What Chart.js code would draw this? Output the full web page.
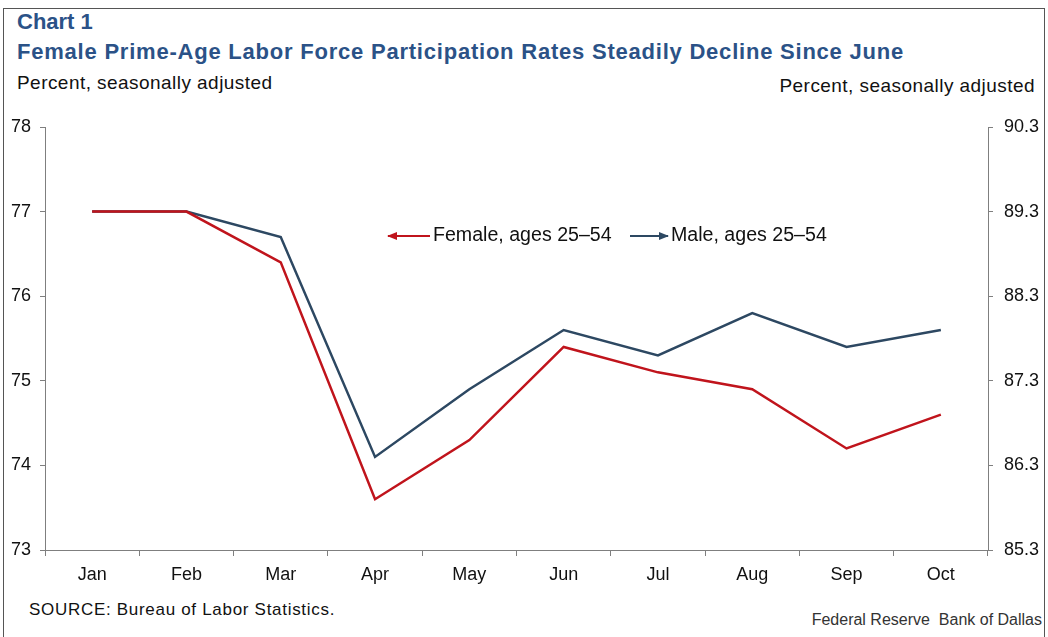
<!DOCTYPE html>
<html>
<head>
<meta charset="utf-8">
<script src="https://cdn.jsdelivr.net/npm/chart.js@4"></script>
<style>
  html, body { margin: 0; padding: 0; background: #fff; }
  body { width: 1048px; height: 637px; position: relative; overflow: hidden;
         font-family: "Liberation Sans", Arial, sans-serif; }
  #frame { position: absolute; left: 3px; top: 8px; width: 1042px; height: 640px;
           border: 1px solid #555; box-sizing: border-box; }
  .txt { position: absolute; white-space: nowrap; }
  #t1 { left: 17px; top: 9px; font-size: 22px; font-weight: bold; color: #2b5287; }
  #t2 { left: 17px; top: 39px; font-size: 22px; font-weight: bold; color: #2b5287; letter-spacing: 0.78px; }
  #unitL { left: 17px; top: 72px; font-size: 19px; color: #111; letter-spacing: 0.45px; }
  #unitR { right: 13px; top: 75px; font-size: 19px; color: #111; letter-spacing: 0.45px; }
  #source { left: 29px; top: 600px; font-size: 17px; color: #111; letter-spacing: 0.7px; }
  #credit { right: 6px; top: 611px; font-size: 16px; color: #333; }
  #wrap { position: absolute; left: 0; top: 0; width: 1048px; height: 637px; }
</style>
</head>
<body>
<div id="frame"></div>
<div class="txt" id="t1">Chart 1</div>
<div class="txt" id="t2">Female Prime-Age Labor Force Participation Rates Steadily Decline Since June</div>
<div class="txt" id="unitL">Percent, seasonally adjusted</div>
<div class="txt" id="unitR">Percent, seasonally adjusted</div>
<div class="txt" id="source">SOURCE: Bureau of Labor Statistics.</div>
<div class="txt" id="credit">Federal Reserve&nbsp; Bank of Dallas</div>
<div id="wrap"><canvas id="c"></canvas></div>
<script>
  // Monthly labor force participation, ages 25-54
  var months = ['Jan', 'Feb', 'Mar', 'Apr', 'May', 'Jun', 'Jul', 'Aug', 'Sep', 'Oct'];
  var femaleRate = [77.0, 77.0, 76.4, 73.6, 74.3, 75.4, 75.1, 74.9, 74.2, 74.6]; // left axis
  var maleRate = [89.3, 89.3, 89.0, 86.4, 87.2, 87.9, 87.6, 88.1, 87.7, 87.9];   // right axis
  var leftTicks = [73, 74, 75, 76, 77, 78];
  var rightTicks = [85.3, 86.3, 87.3, 88.3, 89.3, 90.3];

  var RED = '#c0141c';
  var NAVY = '#2d4862';
  var AXIS = '#7f7f7f';
  var FONT = '"Liberation Sans", Arial, sans-serif';

  // Legend with arrow markers, drawn inside the plot
  var arrowLegend = {
    id: 'arrowLegend',
    afterDraw: function (chart) {
      var ctx = chart.ctx;
      var y = 236;
      function arrow(x1, x2, color, headAtLeft) {
        ctx.strokeStyle = color;
        ctx.fillStyle = color;
        ctx.lineWidth = 2;
        ctx.beginPath();
        ctx.moveTo(x1, y);
        ctx.lineTo(x2, y);
        ctx.stroke();
        var hx = headAtLeft ? x1 : x2;
        var d = headAtLeft ? 1 : -1;
        ctx.beginPath();
        ctx.moveTo(hx - d * 1, y);
        ctx.lineTo(hx + d * 9, y - 4);
        ctx.lineTo(hx + d * 9, y + 4);
        ctx.closePath();
        ctx.fill();
      }
      ctx.save();
      arrow(388, 430, RED, true);
      arrow(630, 668, NAVY, false);
      ctx.fillStyle = '#111';
      ctx.font = '19.6px ' + FONT;
      ctx.textBaseline = 'middle';
      ctx.fillText('Female, ages 25\u201354', 433, y);
      ctx.fillText('Male, ages 25\u201354', 671, y);
      ctx.restore();
    }
  };

  new Chart(document.getElementById('c').getContext('2d'), {
    type: 'line',
    data: {
      labels: months,
      datasets: [{
        label: 'Female, ages 25\u201354',
        data: femaleRate,
        yAxisID: 'yL',
        borderColor: RED,
        borderWidth: 2.5,
        pointRadius: 0,
        tension: 0
      }, {
        label: 'Male, ages 25\u201354',
        data: maleRate,
        yAxisID: 'yR',
        borderColor: NAVY,
        borderWidth: 2.5,
        pointRadius: 0,
        tension: 0
      }]
    },
    options: {
      responsive: true,
      maintainAspectRatio: false,
      animation: false,
      layout: { padding: { top: 127, left: 0, right: 0, bottom: 0 } },
      plugins: { legend: { display: false }, tooltip: { enabled: false } },
      scales: {
        x: {
          offset: true,
          grid: { offset: true, drawOnChartArea: false, drawTicks: true, tickLength: 6, color: AXIS },
          border: { color: AXIS, width: 1 },
          ticks: { color: '#111', font: { family: FONT, size: 18 }, padding: 8, maxRotation: 0 },
          afterFit: function (s) { s.height = 87; }
        },
        yL: {
          position: 'left',
          min: 73, max: 78,
          afterBuildTicks: function (s) { s.ticks = leftTicks.map(function (v) { return { value: v }; }); },
          grid: { drawOnChartArea: false, tickLength: 5, color: AXIS },
          border: { color: AXIS, width: 1 },
          ticks: { color: '#111', font: { family: FONT, size: 18 }, padding: 9 },
          afterFit: function (s) { s.width = 45; }
        },
        yR: {
          position: 'right',
          min: 85.3, max: 90.3,
          afterBuildTicks: function (s) { s.ticks = rightTicks.map(function (v) { return { value: v }; }); },
          grid: { drawOnChartArea: false, tickLength: 5, color: AXIS },
          border: { color: AXIS, width: 1 },
          ticks: {
            color: '#111', font: { family: FONT, size: 18 }, padding: 11,
            callback: function (v) { return Number(v).toFixed(1); }
          },
          afterFit: function (s) { s.width = 60; }
        }
      }
    },
    plugins: [arrowLegend]
  });
</script>
</body>
</html>
